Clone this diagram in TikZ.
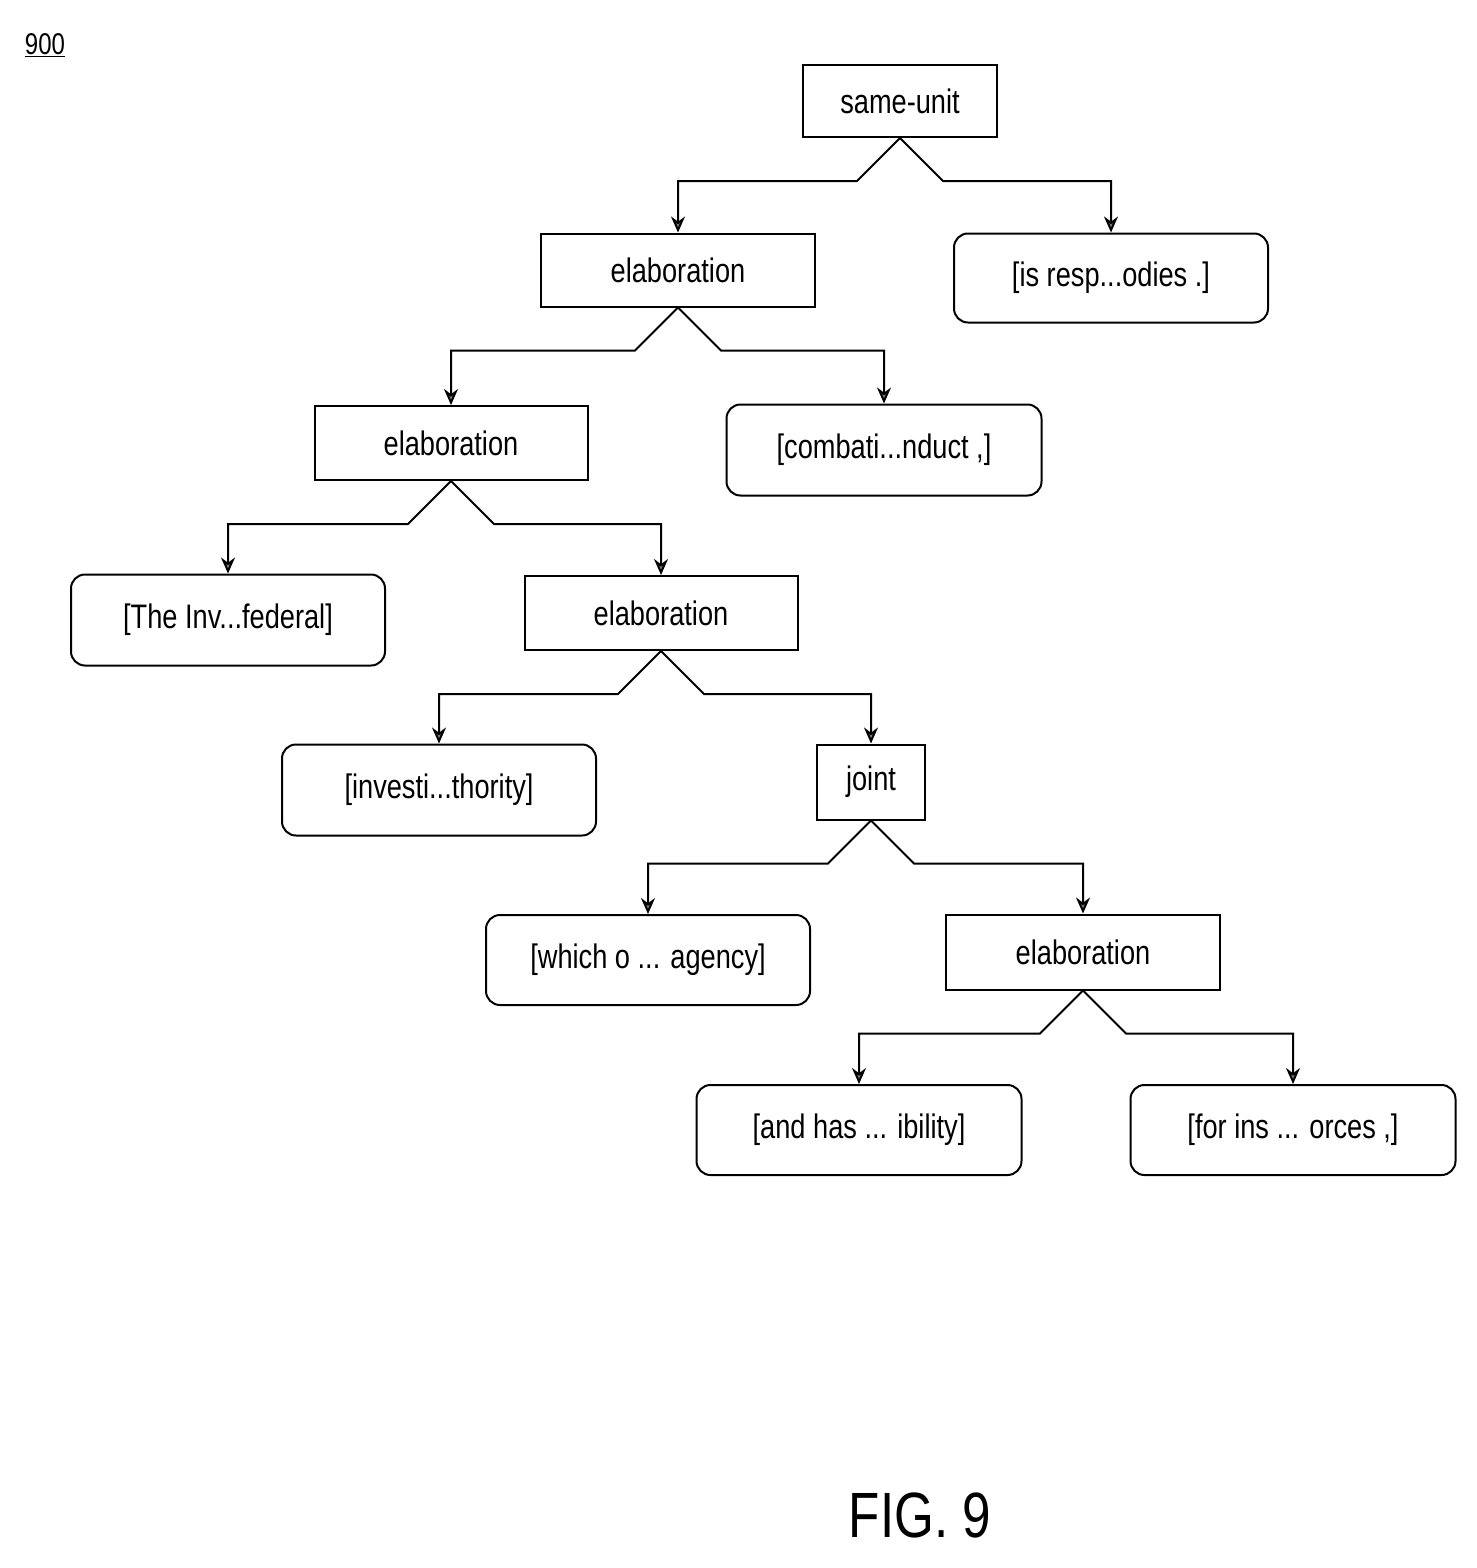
\documentclass[tikz,border=0pt]{standalone}
\usepackage{fontspec}
\usepackage{graphicx}
\setmainfont{Liberation Sans}
\usetikzlibrary{arrows.meta}
\newcommand{\tx}[1]{\scalebox{0.8}[1]{#1}}
\begin{document}
\begin{tikzpicture}[x=1pt,y=-1pt,
  rel/.style={draw,line width=2pt,rectangle,inner sep=0pt,font=\fontsize{34}{40}\selectfont},
  leaf/.style={rel,rounded corners=14pt},
  conn/.style={line width=2pt,-{Stealth[length=16pt,width=14pt,fill=gray]}}]
\useasboundingbox (0,0) rectangle (1477,1568);
\node[font=\fontsize{30}{34}\selectfont] (lbl) at (45,45) {\tx{\underline{900}}};
\node[rel,minimum width=194pt,minimum height=72pt] (su) at (900,101) {\tx{same-unit}};
\node[rel,minimum width=274pt,minimum height=73pt] (e1) at (678,270) {\tx{elaboration}};
\node[leaf,minimum width=314pt,minimum height=89pt] (is) at (1111,278) {\tx{[is resp...odies .]}};
\node[rel,minimum width=273pt,minimum height=74pt] (e2) at (451,443) {\tx{elaboration}};
\node[leaf,minimum width=315pt,minimum height=91pt] (cb) at (884,450) {\tx{[combati...nduct ,]}};
\node[leaf,minimum width=314pt,minimum height=91pt] (ti) at (228,620) {\tx{[The Inv...federal]}};
\node[rel,minimum width=273pt,minimum height=74pt] (e3) at (661,613) {\tx{elaboration}};
\node[leaf,minimum width=314pt,minimum height=91pt] (iv) at (439,790) {\tx{[investi...thority]}};
\node[rel,minimum width=108pt,minimum height=75pt] (jt) at (871,782) {\tx{joint}};
\node[leaf,minimum width=324pt,minimum height=90pt] (wo) at (648,960) {\tx{[which o ... agency]}};
\node[rel,minimum width=274pt,minimum height=75pt] (e4) at (1083,952) {\tx{elaboration}};
\node[leaf,minimum width=325pt,minimum height=90pt] (ah) at (859,1130) {\tx{[and has ... ibility]}};
\node[leaf,minimum width=325pt,minimum height=90pt] (fi) at (1293,1130) {\tx{[for ins ... orces ,]}};
\node[font=\fontsize{64}{70}\selectfont] (fig) at (920,1515) {\tx{FIG. 9}};
\foreach \p/\l/\r in {su/e1/is, e1/e2/cb, e2/ti/e3, e3/iv/jt, jt/wo/e4, e4/ah/fi}{
  \draw[conn] (\p.south) -- ++(-43,43) -| (\l.north);
  \draw[conn] (\p.south) -- ++(43,43) -| (\r.north);
}
\end{tikzpicture}
\end{document}
